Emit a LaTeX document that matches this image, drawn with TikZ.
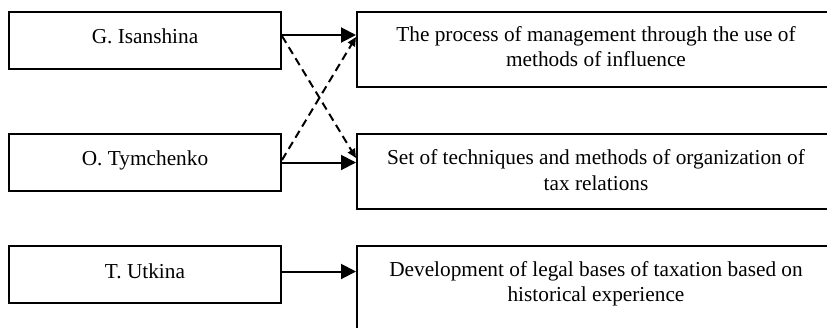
\documentclass[tikz,border=0pt]{standalone}
\usepackage{fontspec}
\setmainfont{Liberation Serif}
\usetikzlibrary{arrows.meta,calc}
\tikzset{
  box/.style={draw, line width=2pt, rectangle, inner sep=0pt, fill=white},
  label/.style={font=\fontsize{21.3}{25.5}\selectfont, align=center, inner sep=0pt, anchor=base},
  arr/.style={line width=2pt, -{Triangle[length=15pt,width=15pt]}},
  darr/.style={line width=2pt, dash pattern=on 8pt off 5pt, -{Triangle[length=9pt,width=8pt]}}
}
\begin{document}
\begin{tikzpicture}[x=1pt,y=-1pt]
\useasboundingbox (0,0) rectangle (827,327);
\begin{scope}
\clip (0,0) rectangle (827,327);
% authors
\node[box, minimum width=272pt, minimum height=57pt] (g) at (145,40.5) {};
\node[box, minimum width=272pt, minimum height=57pt] (o) at (145,162.5) {};
\node[box, minimum width=272pt, minimum height=57pt] (u) at (145,274.5) {};
\node[label] (gt) at (145,43.3) {G. Isanshina};
\node[label] (ot) at (145,165.7) {O. Tymchenko};
\node[label] (ut) at (145,278.3) {T. Utkina};
% definitions (baseline of the last line given)
\node[box, minimum width=484pt, minimum height=75pt] (r1) at (599,49.5) {};
\node[box, minimum width=484pt, minimum height=75pt] (r2) at (599,171.5) {};
\node[box, minimum width=484pt, minimum height=100pt] (r3) at (599,296) {};
\node[label] (r1t) at (596,66.7) {The process of management through the use of\\methods of influence};
\node[label] (r2t) at (596,190) {Set of techniques and methods of organization of\\tax relations};
\node[label] (r3t) at (596,301.5) {Development of legal bases of taxation based on\\historical experience};
% connectors
\draw[darr] ([yshift=4.5pt]g.east) -- ([yshift=4.5pt]o.east -| r2.west);
\draw[darr] ([yshift=2.5pt]o.east) -- ([yshift=3.5pt]g.east -| r1.west);
\draw[arr] ([yshift=5.5pt]g.east) -- ([yshift=5.5pt]g.east -| r1.west);
\draw[arr] (o.east) -- (o.east -| r2.west);
\draw[arr] ([yshift=3pt]u.east) -- ([yshift=3pt]u.east -| r3.west);
\end{scope}
\end{tikzpicture}
\end{document}
